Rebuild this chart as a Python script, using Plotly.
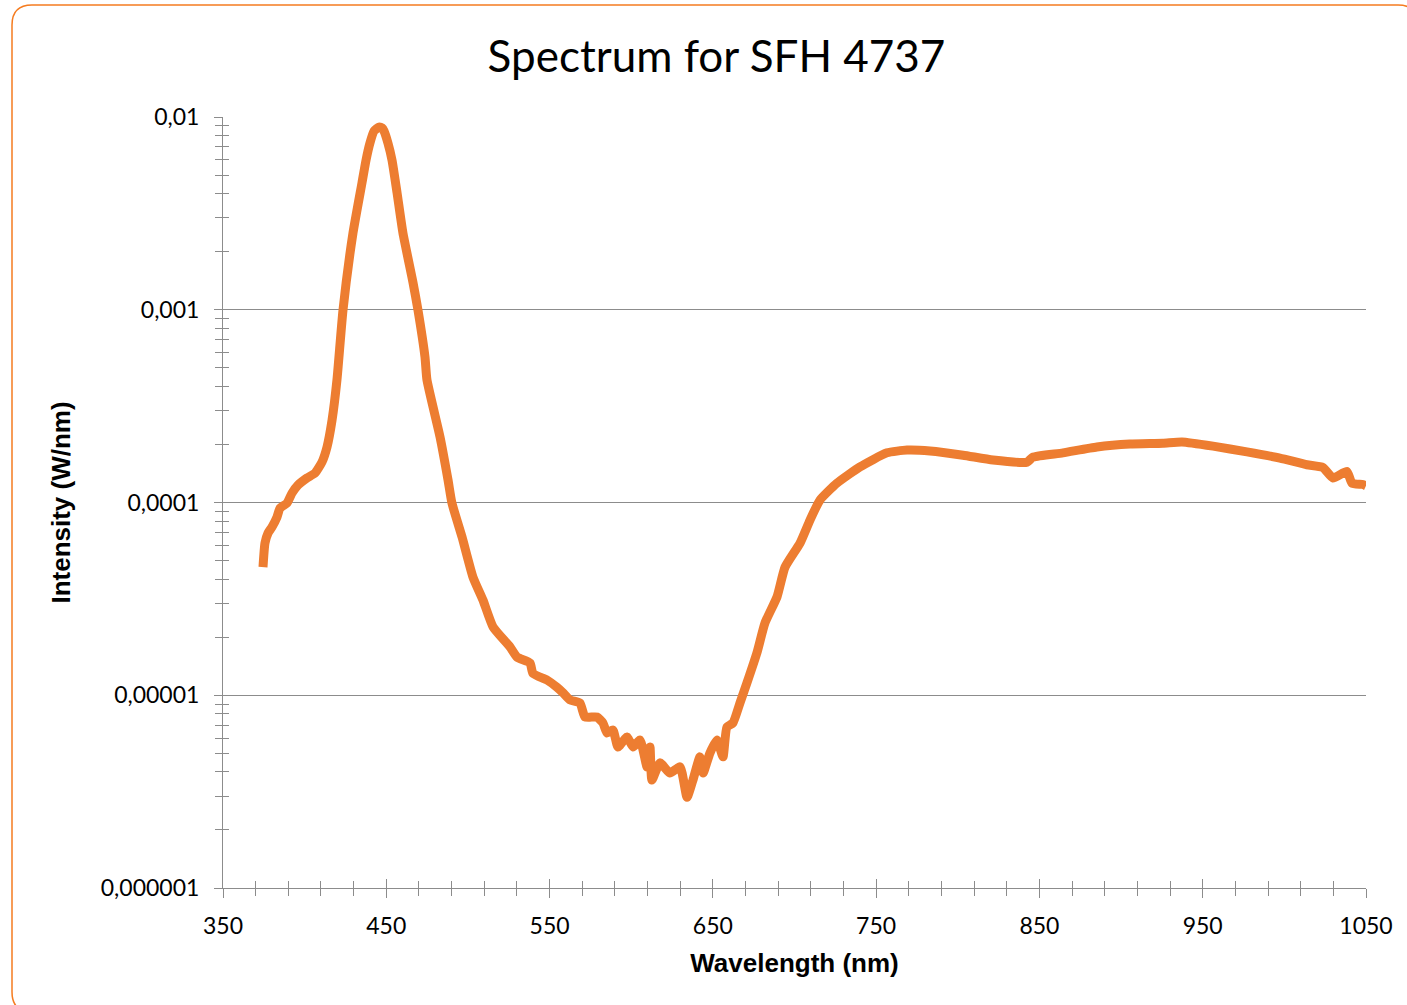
import plotly.graph_objects as go

wavelength_nm = [374.5, 375.7, 377.6, 380.0, 383.1, 384.9, 389.2, 392.3, 395.9, 401.4,
                 406.3, 410.6, 413.7, 416.8, 419.8, 423.5, 429.6, 435.1, 437.6, 440.0,
                 442.5, 445.5, 447.4, 448.6, 451.0, 453.5, 456.6, 460.2, 466.4, 469.4,
                 473.7, 474.9, 482.9, 487.8, 490.2, 496.4, 503.1, 509.2, 515.4, 525.8,
                 530.0, 538.0, 539.8, 548.4, 554.5, 558.2, 562.5, 568.6, 571.7, 579.0,
                 582.7, 585.2, 588.8, 591.9, 597.4, 601.1, 605.4, 609.7, 611.5, 612.7,
                 617.6, 623.7, 629.9, 634.2, 637.8, 642.1, 644.0, 648.2, 652.5, 656.2,
                 658.6, 662.3, 666.6, 670.9, 677.0, 681.9, 689.3, 694.2, 703.4, 709.5,
                 715.6, 726.0, 740.1, 756.6, 768.9, 783.0, 803.2, 821.6, 842.4, 846.0,
                 864.4, 885.2, 905.4, 925.6, 937.3, 956.3, 977.1, 997.3, 1013.8, 1023.6,
                 1029.8, 1038.3, 1041.4, 1048.1, 1050.0]
intensity_w_nm = [4.62e-5, 6.16e-5, 6.95e-5, 7.46e-5, 8.41e-5, 9.35e-5, 9.93e-5, 1.12e-4, 1.23e-4, 1.34e-4,
                  1.42e-4, 1.62e-4, 1.94e-4, 2.68e-4, 4.33e-4, 9.97e-4, 2.50e-3, 4.55e-3, 5.98e-3, 7.33e-3,
                  8.46e-3, 8.87e-3, 8.77e-3, 8.46e-3, 7.33e-3, 5.98e-3, 4.04e-3, 2.50e-3, 1.38e-3, 9.97e-4,
                  5.69e-4, 4.33e-4, 2.19e-4, 1.31e-4, 9.93e-5, 6.62e-5, 4.10e-5, 3.12e-5, 2.26e-5, 1.78e-5,
                  1.58e-5, 1.47e-5, 1.30e-5, 1.20e-5, 1.10e-5, 1.03e-5, 9.45e-6, 9.12e-6, 7.71e-6, 7.71e-6,
                  7.18e-6, 6.37e-6, 6.60e-6, 5.39e-6, 6.07e-6, 5.39e-6, 5.86e-6, 4.25e-6, 5.39e-6, 3.63e-6,
                  4.46e-6, 3.95e-6, 4.25e-6, 2.96e-6, 3.63e-6, 4.79e-6, 3.95e-6, 5.01e-6, 5.86e-6, 4.79e-6,
                  6.84e-6, 7.18e-6, 9.12e-6, 1.16e-5, 1.66e-5, 2.37e-5, 3.24e-5, 4.62e-5, 6.16e-5, 8.11e-5,
                  1.03e-4, 1.26e-4, 1.53e-4, 1.81e-4, 1.87e-4, 1.85e-4, 1.76e-4, 1.66e-4, 1.62e-4, 1.72e-4,
                  1.81e-4, 1.94e-4, 2.01e-4, 2.03e-4, 2.06e-4, 1.96e-4, 1.83e-4, 1.70e-4, 1.57e-4, 1.52e-4,
                  1.34e-4, 1.45e-4, 1.26e-4, 1.24e-4, 1.22e-4]

x_tick_vals = [350, 450, 550, 650, 750, 850, 950, 1050]
y_tick_vals = [1e-6, 1e-5, 1e-4, 1e-3, 1e-2]
y_tick_text = ["0,000001", "0,00001", "0,0001", "0,001", "0,01"]

W, H = 1407, 1005
L, R, T, B = 223, 41, 117, 117
pw, ph = W - L - R, H - T - B

def px(x):
    return (x - L) / pw

def py(y):
    return (H - B - y) / ph

AX = "#8c8c8c"
ORANGE = "#ED7D31"
BORDER = "#F57C20"

fig = go.Figure()
fig.add_trace(go.Scatter(x=wavelength_nm, y=intensity_w_nm, mode="lines",
                         line=dict(color=ORANGE, width=9, shape="spline", smoothing=0.5),
                         showlegend=False, hoverinfo="x+y"))
fig.add_trace(go.Scatter(x=[wavelength_nm[0]], y=[intensity_w_nm[0]], xaxis="x2", yaxis="y2",
                         mode="markers", marker=dict(opacity=0), showlegend=False, hoverinfo="skip"))

tickfont = dict(family="Lato, Open Sans, sans-serif", size=23, color="#000000")
axtitlefont = dict(family="Liberation Sans, Arial, sans-serif", size=26, color="#000000")

fig.update_layout(
    width=W, height=H,
    margin=dict(l=L, r=R, t=T, b=B),
    paper_bgcolor="white", plot_bgcolor="white",
    title=dict(text="Spectrum for SFH 4737", x=716.5 / W, xanchor="center",
               y=1 - 57 / H, yanchor="middle",
               font=dict(family="Lato, Open Sans, sans-serif", size=44, color="#000000")),
    xaxis=dict(range=[350, 1050], tickvals=x_tick_vals, ticks="outside", ticklen=9, tickwidth=1,
               tickcolor=AX, showline=True, linecolor=AX, linewidth=1, showgrid=False, zeroline=False,
               tickfont=tickfont, ticklabelstandoff=8,
               minor=dict(dtick=20, tick0=350, ticks="outside", ticklen=7, tickcolor=AX, showgrid=False),
               title=dict(text="<b>Wavelength (nm)</b>", font=axtitlefont, standoff=16)),
    yaxis=dict(type="log", range=[-6, -2], tickvals=y_tick_vals, ticktext=y_tick_text,
               ticks="outside", ticklen=8, tickwidth=1, tickcolor=AX,
               showline=True, linecolor=AX, linewidth=1, showgrid=True, gridcolor=AX, gridwidth=1,
               zeroline=False, tickfont=tickfont, ticklabelstandoff=10,
               minor=dict(dtick="D1", ticks="outside", ticklen=7, tickcolor=AX, showgrid=False),
               title=dict(text="<b>Intensity (W/nm)</b>", font=axtitlefont, standoff=22)),
    xaxis2=dict(range=[350, 1050], overlaying="x", anchor="y2", side="bottom", tickvals=x_tick_vals,
                ticks="inside", ticklen=9, tickcolor=AX, showticklabels=False, showgrid=False,
                zeroline=False, showline=False,
                minor=dict(dtick=20, tick0=350, ticks="inside", ticklen=7, tickcolor=AX, showgrid=False)),
    yaxis2=dict(type="log", range=[-6, -2], overlaying="y", anchor="x2", side="left",
                tickvals=y_tick_vals, ticks="inside", ticklen=6, tickcolor=AX, showticklabels=False,
                showgrid=False, zeroline=False, showline=False,
                minor=dict(dtick="D1", ticks="inside", ticklen=6, tickcolor=AX, showgrid=False)),
)

# rounded chart border (right and bottom edges lie just outside the window)
x0, x1 = px(12), px(1418)
y0, y1 = py(1012), py(5)
rx, ry = 20 / pw, 20 / ph
path = (f"M {x0+rx},{y1} L {x1-rx},{y1} Q {x1},{y1} {x1},{y1-ry} "
        f"L {x1},{y0+ry} Q {x1},{y0} {x1-rx},{y0} L {x0+rx},{y0} Q {x0},{y0} {x0},{y0+ry} "
        f"L {x0},{y1-ry} Q {x0},{y1} {x0+rx},{y1} Z")
fig.add_shape(type="path", path=path, xref="paper", yref="paper",
              line=dict(color=BORDER, width=1.5), fillcolor="rgba(0,0,0,0)", layer="below")

fig.write_html("out.html", config={"displayModeBar": False},
               post_script="document.body.style.margin='0px';document.body.style.overflow='hidden';")
